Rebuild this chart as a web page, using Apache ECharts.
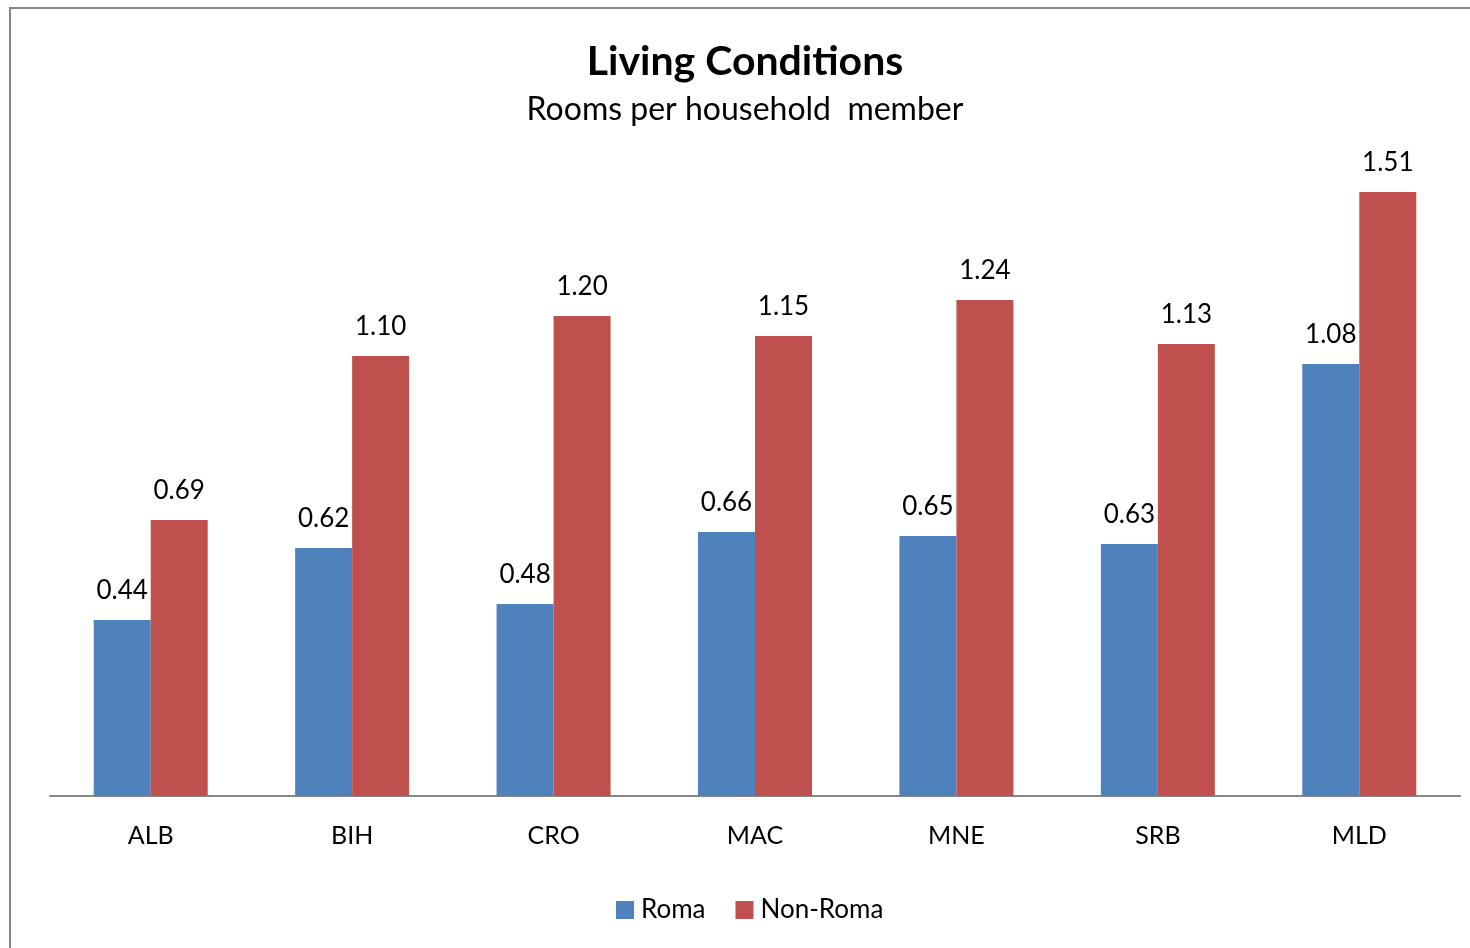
<!DOCTYPE html>
<html>
<head>
<meta charset="utf-8">
<script src="https://cdn.jsdelivr.net/npm/echarts@6/dist/echarts.min.js"></script>
<style>
  html, body { margin: 0; padding: 0; background: #fff; }
  #chart { width: 1470px; height: 948px; }
</style>
</head>
<body>
<div id="chart"></div>
<script>
// 国家代码
const countries = ['ALB', 'BIH', 'CRO', 'MAC', 'MNE', 'SRB', 'MLD'];
// 每位家庭成员的房间数
const romaValues = [0.44, 0.62, 0.48, 0.66, 0.65, 0.63, 1.08];
const nonRomaValues = [0.69, 1.10, 1.20, 1.15, 1.24, 1.13, 1.51];

const FONT = 'Lato, "Open Sans", sans-serif';

const chart = echarts.init(document.getElementById('chart'));

const labelStyle = {
  show: true,
  position: 'top',
  distance: 16,
  color: '#000',
  fontSize: 26,
  fontFamily: FONT,
  formatter: (p) => p.value.toFixed(2)
};

const option = {
  animation: false,
  backgroundColor: '#fff',
  textStyle: { fontFamily: FONT },
  // 外框
  graphic: [{
    type: 'rect',
    shape: { x: 10, y: 8, width: 1480, height: 960 },
    style: { fill: 'none', stroke: '#868686', lineWidth: 2 },
    silent: true
  }],
  title: {
    text: 'Living Conditions',
    subtext: 'Rooms per household  member',
    left: 740,
    textAlign: 'center',
    top: 36,
    itemGap: 12,
    textStyle: { fontSize: 41, fontWeight: 'bold', color: '#000', fontFamily: FONT },
    subtextStyle: { fontSize: 32, color: '#000', fontFamily: FONT }
  },
  legend: {
    data: ['Roma', 'Non-Roma'],
    bottom: 20,
    left: 611,
    itemWidth: 18,
    itemHeight: 18,
    itemGap: 30,
    icon: 'rect',
    textStyle: { fontSize: 26, color: '#000', fontFamily: FONT, padding: [0, 0, 0, 2] }
  },
  grid: { left: 50, top: 156, width: 1410, height: 640 },
  xAxis: {
    type: 'category',
    data: countries,
    axisLine: { lineStyle: { color: '#868686', width: 2 } },
    axisTick: { show: false },
    axisLabel: { fontSize: 25, color: '#000', margin: 27, fontFamily: FONT }
  },
  yAxis: {
    type: 'value',
    min: 0,
    max: 1.6,
    show: false,
    splitLine: { show: false }
  },
  series: [
    {
      name: 'Roma',
      type: 'bar',
      data: romaValues,
      barWidth: 57,
      barGap: '0%',
      itemStyle: { color: '#4F81BD' },
      label: labelStyle
    },
    {
      name: 'Non-Roma',
      type: 'bar',
      data: nonRomaValues,
      barWidth: 57,
      barGap: '0%',
      itemStyle: { color: '#C0504D' },
      label: labelStyle
    }
  ]
};

chart.setOption(option);
</script>
</body>
</html>
